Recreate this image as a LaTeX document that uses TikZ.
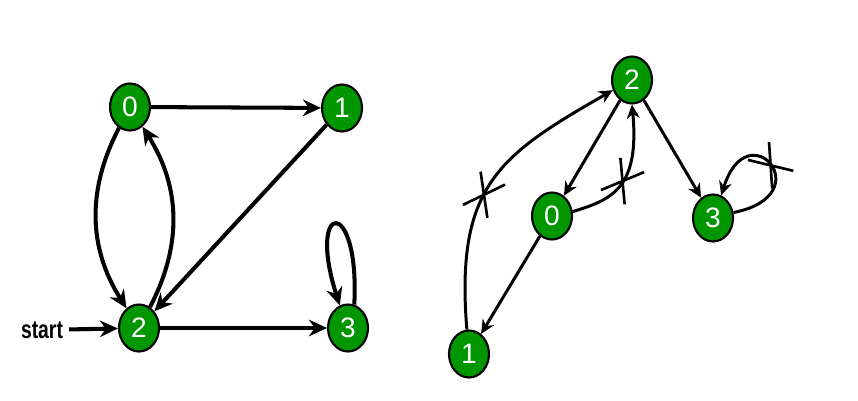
\documentclass[tikz,border=0pt]{standalone}
\usepackage{fontspec}
\setmainfont{Liberation Sans}
\newfontfamily\narrowfont[FakeStretch=0.76]{Liberation Sans}
\usepackage{tikz}
\usetikzlibrary{arrows.meta,shapes.geometric,shapes.misc}
\definecolor{VertGreen}{RGB}{0,150,0}

\begin{document}
\begin{tikzpicture}[x=0.02cm,y=0.02cm,>={Stealth[length=3.6mm,width=3.3mm]},every node/.style={font=\fontsize{16}{18}\selectfont}]
\tikzset{vert/.style={ellipse,draw=black,line width=1.2pt,fill=VertGreen,text=white,minimum width=8mm,minimum height=9.4mm,inner sep=0pt},bigarc/.style={->,line width=2.3pt},smallarc/.style={->,line width=1.7pt,>={Stealth[length=2.8mm,width=2.6mm]}},cutmark/.style={cross out,draw,line width=1.5pt,minimum width=7mm,minimum height=5mm,inner sep=0pt}}
\useasboundingbox (0,0) rectangle (858,400);
% graph
\node[vert] (a0) at (130,293) {0};
\node[vert] (a1) at (342,292) {1};
\node[vert] (a2) at (139,72) {2};
\node[vert] (a3) at (348,72) {3};
\node[font=\narrowfont\bfseries\fontsize{14.5}{16}\selectfont] (start) at (42,70) {start};
\draw[bigarc] (start)--(a2);
\draw[bigarc] (a0)--(a1);
\draw[bigarc] (a1)--(a2);
\draw[bigarc] (a0) to[bend right=30] (a2);
\draw[bigarc] (a2) to[bend right=30] (a0);
\draw[bigarc] (a2)--(a3);
\draw[bigarc] (a3.75) .. controls (360,205) and (306,200) .. (a3.110);
% DFS tree with cut edges
\node[vert] (b2) at (632,320) {2};
\node[vert] (b0) at (552,184) {0};
\node[vert] (b3) at (713,182) {3};
\node[vert] (b1) at (469,46) {1};
\draw[smallarc] (b1.95) .. controls (455,215) and (500,245) .. (b2.208) node[cutmark,sloped,pos=0.43] (cut1) {};
\draw[smallarc] (b2)--(b0);
\draw[smallarc] (b0)--(b1);
\draw[smallarc] (b0.12) .. controls (610,200) and (640,210) .. (b2.-90) node[cutmark,sloped,pos=0.55] (cut2) {};
\draw[smallarc] (b2)--(b3);
\draw[smallarc] (b3.15) .. controls (822,205) and (748,290) .. (b3.70) node[cutmark,sloped,pos=0.5] (cut3) {};
\end{tikzpicture}
\end{document}
